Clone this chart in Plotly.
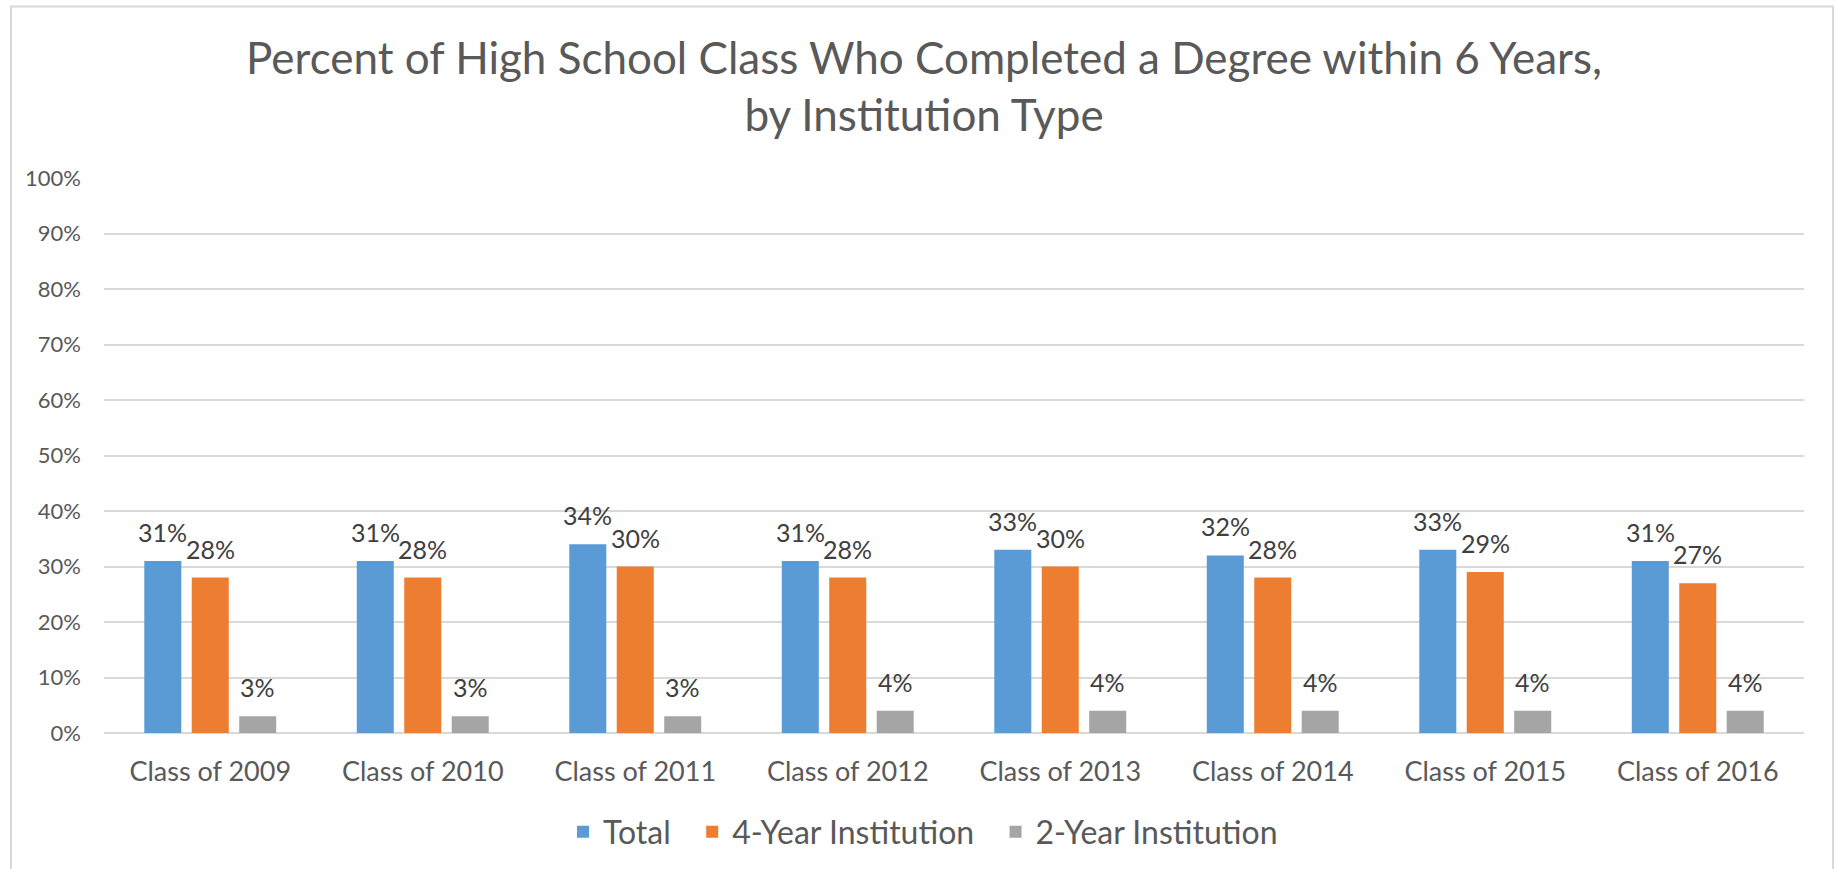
import plotly.graph_objects as go

categories = ["Class of 2009", "Class of 2010", "Class of 2011", "Class of 2012",
              "Class of 2013", "Class of 2014", "Class of 2015", "Class of 2016"]
total = [31, 31, 34, 31, 33, 32, 33, 31]
four_year = [28, 28, 30, 28, 30, 28, 29, 27]
two_year = [3, 3, 3, 4, 4, 4, 4, 4]
series_names = ["Total", "4-Year Institution", "2-Year Institution"]
series_colors = ["#5B9BD5", "#ED7D31", "#A5A5A5"]
y_ticks = [0, 10, 20, 30, 40, 50, 60, 70, 80, 90, 100]

FONT = "Lato"
W, H = 1835, 869
ML, MR, MT, MB = 104, 31, 178, 136
BARGAP, BARGROUPGAP = 0.33, 0.22

series_values = [total, four_year, two_year]

fig = go.Figure()
for i, (name, vals, col) in enumerate(zip(series_names, series_values, series_colors)):
    # trailing non-breaking spaces widen the gap between legend entries
    pad = "\u00a0" * 2 if i < len(series_names) - 1 else ""
    fig.add_trace(go.Bar(
        x=categories, y=vals, name=name + pad,
        marker=dict(color=col, line=dict(width=0)),
        hovertemplate=name + ": %{y}%<extra></extra>",
    ))

pw = W - ML - MR
ph = H - MT - MB

def px_x(p):
    return (p - ML) / pw

def px_y(p):
    return (H - MB - p) / ph

# data labels above each bar (offset to the bar's slot within its group)
n = len(series_values)
slot = (pw / len(categories)) * (1 - BARGAP) / n
annotations = []
for i, vals in enumerate(series_values):
    off = (i - (n - 1) / 2) * slot
    for c, v in zip(categories, vals):
        annotations.append(dict(
            x=c, y=v, xref="x", yref="y", text=f"{v}%", showarrow=False,
            xanchor="center", yanchor="bottom", xshift=off, yshift=12,
            font=dict(family=FONT, size=25, color="#404040"),
        ))

fig.update_layout(
    width=W, height=H,
    margin=dict(l=ML, r=MR, t=MT, b=MB, autoexpand=False),
    paper_bgcolor="white", plot_bgcolor="white",
    barmode="group", bargap=BARGAP, bargroupgap=BARGROUPGAP,
    title=dict(
        text="Percent of High School Class Who Completed a Degree within 6 Years,<br>by Institution Type",
        x=924 / W, xref="container", xanchor="center",
        y=1 - 74 / H, yanchor="middle", yref="container",
        font=dict(family=FONT, size=44, color="#595959"),
    ),
    font=dict(family=FONT, color="#595959"),
    xaxis=dict(
        showgrid=False, showline=False, zeroline=False,
        tickfont=dict(family=FONT, size=27, color="#595959"),
        ticklabelstandoff=20,
    ),
    yaxis=dict(
        range=[0, 100], tickvals=y_ticks, ticktext=[f"{v}%" for v in y_ticks],
        showgrid=True, gridcolor="#D9D9D9", gridwidth=1.5,
        zeroline=True, zerolinecolor="#D9D9D9", zerolinewidth=1.5,
        showline=False,
        tickfont=dict(family=FONT, size=22, color="#595959"),
        ticklabelstandoff=22,
    ),
    legend=dict(
        orientation="h", x=px_x(923), xanchor="center",
        y=px_y(832), yanchor="middle",
        font=dict(family=FONT, size=32, color="#595959"),
        traceorder="normal", itemwidth=30,
    ),
    annotations=annotations,
    shapes=[dict(
        type="rect", xref="paper", yref="paper",
        x0=px_x(11), x1=px_x(1833), y0=px_y(900), y1=px_y(6.5),
        line=dict(color="#D9D9D9", width=2), fillcolor="rgba(0,0,0,0)",
        layer="below",
    )],
)

fig.write_html(
    "out.html",
    config={"displayModeBar": False},
    post_script="document.body.style.margin='0';document.body.style.overflow='hidden';",
)
